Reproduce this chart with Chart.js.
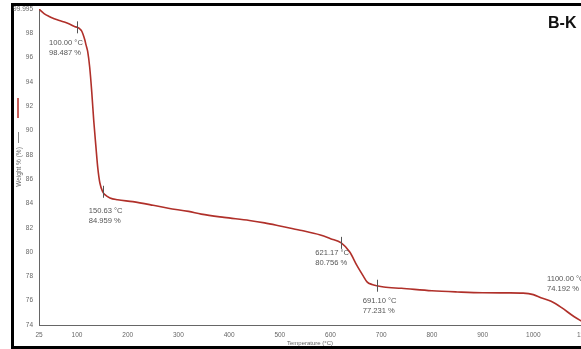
<!DOCTYPE html>
<html>
<head>
<meta charset="utf-8">
<script src="https://cdn.jsdelivr.net/npm/chart.js@4.4.1/dist/chart.umd.min.js"></script>
<style>
  html, body { margin: 0; padding: 0; background: #fff; overflow: hidden; width: 581px; height: 349px; }
  body { position: relative; }
  #wrap { position: absolute; left: 0; top: 0; width: 620px; height: 349px; }
</style>
</head>
<body>
<div id="wrap"><canvas id="tga"></canvas></div>
<script>
// TGA curve, sample B-K
const temps = [25, 35, 45, 55, 65, 75, 85, 95, 100, 105, 109, 112, 115, 118, 121, 125, 129, 133, 137, 141, 145,
  150.63, 155, 165, 180, 210, 250, 280, 320, 345, 390, 440, 470, 505, 540, 580, 600, 621.17, 638, 652, 665, 672,
  682, 691.1, 705, 740, 800, 850, 900, 950, 980, 1000, 1015, 1035, 1055, 1080, 1100];
const weights = [99.995, 99.62, 99.38, 99.2, 99.05, 98.92, 98.76, 98.56, 98.487, 98.38, 98.2, 97.9, 97.5, 97.0, 96.5,
  95.2, 93.2, 90.8, 88.8, 86.9, 85.7, 84.959, 84.72, 84.45, 84.3, 84.15, 83.85, 83.6, 83.35, 83.12, 82.85, 82.6,
  82.4, 82.1, 81.8, 81.4, 81.1, 80.756, 80.0, 78.9, 78.0, 77.55, 77.33, 77.231, 77.12, 77.02, 76.82, 76.72, 76.65,
  76.64, 76.62, 76.5, 76.25, 75.95, 75.45, 74.7, 74.192];

const markTemps = [100, 150.63, 621.17, 691.10, 1100];
const markWeights = [98.487, 84.959, 80.756, 77.231, 74.192];

const yTicks = [74, 76, 78, 80, 82, 84, 86, 88, 90, 92, 94, 96, 98, 99.995];
const xTicks = [25, 100, 200, 300, 400, 500, 600, 700, 800, 900, 1000, 1100];

// label placement relative to each marker (px): left edge, first line centre
const markLabelPos = [[-28, 16], [-14, 19], [-26, 10], [-14, 15], [-37, -44]];

const FONT = '"Liberation Sans", Arial, sans-serif';
const GREY = '#666';

const decor = {
  id: 'decor',
  beforeDraw(chart) {
    // black frame, open on the right (cut off in the original)
    const ctx = chart.ctx;
    ctx.save();
    ctx.fillStyle = '#000';
    ctx.fillRect(11, 3, chart.width - 11, 3);
    ctx.fillRect(11, 3, 3, 346);
    ctx.fillRect(11, 346, chart.width - 11, 3);
    ctx.restore();
  },
  afterDatasetsDraw(chart) {
    const { ctx, scales: { x, y }, chartArea } = chart;
    ctx.save();
    // markers + labels
    ctx.font = '7.6px ' + FONT;
    ctx.fillStyle = '#555';
    ctx.textBaseline = 'middle';
    ctx.textAlign = 'left';
    markTemps.forEach((t, i) => {
      const px = x.getPixelForValue(t), py = y.getPixelForValue(markWeights[i]);
      ctx.strokeStyle = '#555';
      ctx.lineWidth = 1;
      ctx.beginPath();
      ctx.moveTo(Math.round(px) + 0.5, py - 6);
      ctx.lineTo(Math.round(px) + 0.5, py + 6);
      ctx.stroke();
      const [dx, dy] = markLabelPos[i];
      ctx.fillText(t.toFixed(2) + ' °C', px + dx, py + dy);
      ctx.fillText(markWeights[i].toFixed(3) + ' %', px + dx, py + dy + 10);
    });

    // title
    ctx.font = 'bold 16px ' + FONT;
    ctx.fillStyle = '#111';
    ctx.textAlign = 'left';
    ctx.fillText('B-K', 548, 24);

    // x title
    ctx.font = '6px ' + FONT;
    ctx.fillStyle = GREY;
    ctx.textAlign = 'center';
    ctx.fillText('Temperature (°C)', 310, 343);

    // y title with series swatch
    const lx = chartArea.left - 21;
    ctx.strokeStyle = '#b52a25';
    ctx.lineWidth = 1.5;
    ctx.beginPath(); ctx.moveTo(lx, 98); ctx.lineTo(lx, 118); ctx.stroke();
    ctx.strokeStyle = '#888';
    ctx.lineWidth = 1;
    ctx.beginPath(); ctx.moveTo(lx + 0.5, 132); ctx.lineTo(lx + 0.5, 143); ctx.stroke();
    ctx.translate(lx + 1, 167);
    ctx.rotate(-Math.PI / 2);
    ctx.font = '6.5px ' + FONT;
    ctx.fillStyle = GREY;
    ctx.textAlign = 'center';
    ctx.fillText('Weight % (%)', 0, 0);
    ctx.restore();
  }
};

new Chart(document.getElementById('tga'), {
  type: 'line',
  data: {
    datasets: [{
      data: temps.map((t, i) => ({ x: t, y: weights[i] })),
      borderColor: '#b0302a',
      borderWidth: 1.6,
      pointRadius: 0,
      cubicInterpolationMode: 'monotone',
      fill: false
    }]
  },
  options: {
    responsive: true,
    maintainAspectRatio: false,
    animation: false,
    layout: { padding: { top: 9, right: 36, left: 0, bottom: 0 } },
    plugins: { legend: { display: false }, tooltip: { enabled: false } },
    scales: {
      x: {
        type: 'linear', min: 25, max: 1100,
        afterBuildTicks: s => { s.ticks = xTicks.map(v => ({ value: v })); },
        afterFit: s => { s.height = 24; },
        grid: { display: false, drawTicks: true, tickLength: 3, color: GREY },
        border: { color: GREY, width: 1 },
        ticks: { color: GREY, font: { family: FONT, size: 6.5 }, padding: 3, maxRotation: 0, autoSkip: false,
          callback: v => String(v) }
      },
      y: {
        min: 74, max: 99.995,
        afterBuildTicks: s => { s.ticks = yTicks.map(v => ({ value: v })); },
        afterFit: s => { s.width = 39; },
        grid: { display: false, drawTicks: true, tickLength: 4, color: GREY },
        border: { color: GREY, width: 1 },
        ticks: { color: GREY, font: { family: FONT, size: 6.5 }, padding: 2, autoSkip: false,
          callback: v => String(v) }
      }
    }
  },
  plugins: [decor]
});
</script>
</body>
</html>
